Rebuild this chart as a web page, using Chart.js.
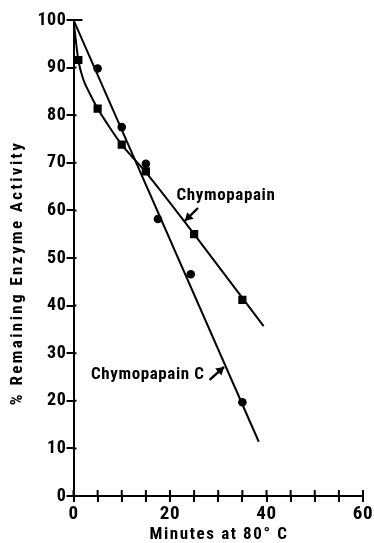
<!DOCTYPE html>
<html>
<head>
<meta charset="utf-8">
<script src="https://cdn.jsdelivr.net/npm/chart.js@4.4.1/dist/chart.umd.min.js"></script>
<style>
  html, body { margin: 0; padding: 0; background: #fff; }
  #wrap { width: 374px; height: 543px; position: relative; }
</style>
</head>
<body>
<div id="wrap"><canvas id="c" width="374" height="543"></canvas></div>
<script>
// ---- data ----
const squareMinutes = [1, 5, 10, 15, 25, 35];           // Chymopapain (squares)
const squareActivity = [91.6, 81.4, 73.8, 68.2, 55.0, 41.2];
const circleMinutes = [5, 10, 15, 17.5, 24.3, 35];       // Chymopapain C (circles)
const circleActivity = [89.8, 77.5, 69.8, 58.2, 46.6, 19.7];
const curveMinutes = [0, 1, 2, 3.5, 5, 7, 10, 15, 25, 39.4];   // drawn curve, Chymopapain
const curveActivity = [100, 91.6, 87.6, 84.3, 81.4, 78.2, 73.8, 68.0, 55.0, 35.7];
const lineCMinutes = [0, 38.4];                          // drawn line, Chymopapain C
const lineCActivity = [100, 11.4];
const xTickLabels = [0, 20, 40, 60];
const yTickValues = [0, 10, 20, 30, 40, 50, 60, 70, 80, 90, 100];
const seriesNames = ['Chymopapain', 'Chymopapain C'];
const xTitle = 'Minutes at 80° C';
const yTitle = '% Remaining Enzyme Activity';

const toPts = (xs, ys) => xs.map((x, i) => ({ x: x, y: ys[i] }));

const FONT = '"Roboto Condensed", "Open Sans", sans-serif';

// annotations in data units
const labels = [
  { text: seriesNames[0], x: 31.6, y: 63.0, tail: [25.8, 60.5], head: [23.1, 57.8] },
  { text: seriesNames[1], x: 15.4, y: 25.4, tail: [28.2, 24.4], head: [31.2, 27.1] }
];

const extras = {
  id: 'extras',
  beforeDraw(chart) {
    chart.ctx.letterSpacing = '0.6px';
  },
  afterDraw(chart) {
    const ctx = chart.ctx;
    const xs = chart.scales.x, ys = chart.scales.y;
    const x0 = xs.getPixelForValue(0), y0 = ys.getPixelForValue(0);
    ctx.save();
    ctx.strokeStyle = '#000';
    ctx.lineWidth = 2;
    // inner halves of the crossing ticks
    ctx.beginPath();
    xs.ticks.forEach(t => {
      const px = xs.getPixelForValue(t.value);
      ctx.moveTo(px, y0); ctx.lineTo(px, y0 - 6);
    });
    ys.ticks.forEach(t => {
      const py = ys.getPixelForValue(t.value);
      ctx.moveTo(x0, py); ctx.lineTo(x0 + (t.value === 100 ? 9 : 3), py);
    });
    ctx.stroke();

    // annotations
    ctx.fillStyle = '#000';
    ctx.letterSpacing = '0.6px';
    ctx.font = 'bold 17px ' + FONT;
    ctx.textAlign = 'center';
    ctx.textBaseline = 'middle';
    labels.forEach(l => {
      ctx.fillText(l.text, xs.getPixelForValue(l.x), ys.getPixelForValue(l.y));
      const tx = xs.getPixelForValue(l.tail[0]), ty = ys.getPixelForValue(l.tail[1]);
      const hx = xs.getPixelForValue(l.head[0]), hy = ys.getPixelForValue(l.head[1]);
      ctx.lineWidth = 2.4;
      ctx.beginPath(); ctx.moveTo(tx, ty); ctx.lineTo(hx, hy); ctx.stroke();
      const a = Math.atan2(hy - ty, hx - tx);
      const L = 9, W = 0.55;
      ctx.beginPath();
      ctx.moveTo(hx, hy);
      ctx.lineTo(hx - L * Math.cos(a - W), hy - L * Math.sin(a - W));
      ctx.lineTo(hx - L * Math.cos(a + W), hy - L * Math.sin(a + W));
      ctx.closePath(); ctx.fill();
    });

    // axis titles
    ctx.font = 'bold 17px ' + FONT;
    ctx.letterSpacing = '1.6px';
    ctx.fillText(xTitle, 219, 535);
    ctx.translate(18, 273);
    ctx.rotate(-Math.PI / 2);
    ctx.letterSpacing = '2.4px';
    ctx.fillText(yTitle, 0, 0);
    ctx.restore();
  }
};

new Chart(document.getElementById('c'), {
  type: 'scatter',
  data: {
    datasets: [
      { label: seriesNames[0], data: toPts(squareMinutes, squareActivity), pointStyle: 'rect',
        pointRadius: 5.8, backgroundColor: '#000', borderColor: '#000', borderWidth: 0, showLine: false },
      { label: seriesNames[1], data: toPts(circleMinutes, circleActivity), pointStyle: 'circle',
        pointRadius: 4.3, backgroundColor: '#000', borderColor: '#000', borderWidth: 0, showLine: false },
      { label: seriesNames[0] + ' curve', data: toPts(curveMinutes, curveActivity), showLine: true,
        pointRadius: 0, borderColor: '#000', borderWidth: 2, cubicInterpolationMode: 'monotone', fill: false },
      { label: seriesNames[1] + ' line', data: toPts(lineCMinutes, lineCActivity), showLine: true,
        pointRadius: 0, borderColor: '#000', borderWidth: 2, fill: false }
    ]
  },
  options: {
    responsive: false,
    animation: false,
    events: [],
    layout: { padding: { left: 0, right: 11, top: 20, bottom: 0 } },
    plugins: { legend: { display: false }, tooltip: { enabled: false } },
    scales: {
      x: {
        type: 'linear', min: 0, max: 60,
        afterFit(s) { s.height = 47; },
        ticks: {
          stepSize: 5, autoSkip: false, maxRotation: 0, padding: 1, color: '#000',
          font: { family: FONT, size: 19, weight: 'bold' },
          callback: v => xTickLabels.includes(v) ? String(v) : ''
        },
        grid: { drawOnChartArea: false, color: '#000', lineWidth: 2, tickLength: 6 },
        border: { display: true, color: '#000', width: 2 }
      },
      y: {
        type: 'linear', min: 0, max: 100,
        afterFit(s) { s.width = 73.5; },
        afterBuildTicks(s) { s.ticks = yTickValues.map(v => ({ value: v })); },
        ticks: {
          autoSkip: false, padding: 0, color: '#000',
          font: { family: FONT, size: 18, weight: 'bold' }
        },
        grid: { drawOnChartArea: false, color: '#000', lineWidth: 2, tickLength: 7 },
        border: { display: true, color: '#000', width: 2 }
      }
    }
  },
  plugins: [extras]
});
</script>
</body>
</html>
